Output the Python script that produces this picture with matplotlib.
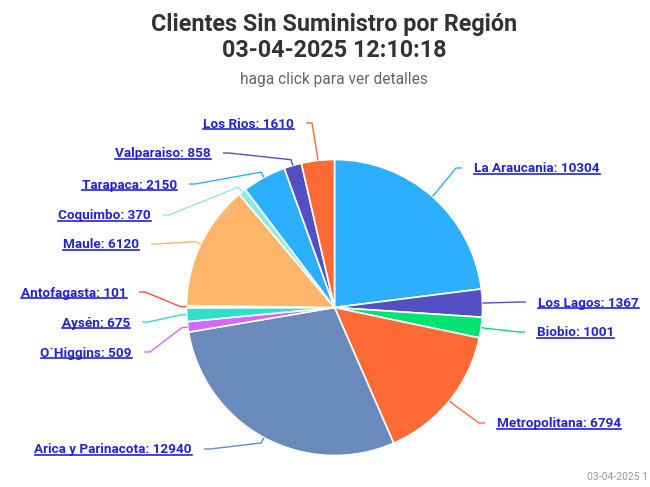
import matplotlib.pyplot as plt
import numpy as np

regiones = ['La Araucania', 'Los Lagos', 'Biobio', 'Metropolitana', 'Arica y Parinacota',
            "O`Higgins", 'Aysén', 'Antofagasta', 'Maule', 'Coquimbo', 'Tarapaca',
            'Valparaiso', 'Los Rios']
clientes = [10304, 1367, 1001, 6794, 12940, 509, 675, 101, 6120, 370, 2150, 858, 1610]
colores = ['#2caffe', '#544fc5', '#00e272', '#fe6a35', '#6b8abc', '#d568fb', '#2ee0ca',
           '#fa4b42', '#feb56a', '#91e8e1', '#2caffe', '#544fc5', '#fe6a35']

titulo = 'Clientes Sin Suministro por Región'
fecha = '03-04-2025 12:10:18'
subtitulo = 'haga click para ver detalles'
credito = '03-04-2025 1'

# where the data labels sit (pixels from top-left of the image)
lab_x = [474, 538, 537, 497, 192, 132, 130, 127, 139, 151, 177, 211, 294]
lab_y = [168, 302, 332, 423, 449, 352, 322, 292, 244, 215, 184, 153, 123]

W, H = 650, 487
cx, cy, R = 334.5, H - 307.5, 148
link = '#2222d8'

plt.rcParams['font.family'] = ['Roboto', 'DejaVu Sans']

fig = plt.figure(figsize=(6.5, 4.87), dpi=100)
ax = fig.add_axes([0, 0, 1, 1])

wedges, _ = ax.pie(clientes, colors=colores, startangle=90, counterclock=False,
                   center=(cx, cy), radius=R,
                   wedgeprops=dict(edgecolor='white', linewidth=1.2))
ax.set_xlim(0, W)
ax.set_ylim(0, H)
ax.set_aspect('equal')
ax.axis('off')

textos = []
for i, w in enumerate(wedges):
    a = np.radians((w.theta1 + w.theta2) / 2)
    ex, ey = cx + R * np.cos(a), cy + R * np.sin(a)
    bx, by = cx + (R + 6) * np.cos(a), cy + (R + 6) * np.sin(a)
    side = 1 if lab_x[i] > cx else -1
    ty = H - lab_y[i]
    x0 = lab_x[i] - 12 * side
    ax.plot([x0, x0 - 6 * side, bx, ex], [ty, ty, by, ey], color=colores[i], lw=1,
            solid_capstyle='butt', zorder=1)
    t = ax.text(lab_x[i], ty - 4.5, f'{regiones[i]}: {clientes[i]}',
                ha='left' if side > 0 else 'right', va='baseline',
                fontsize=9.7, fontweight='bold', color=link)
    textos.append(t)

ax.text(334.5, H - 31, titulo, ha='center', va='baseline', fontsize=16.8,
        fontweight='bold', color='#333333')
ax.text(334.5, H - 57, fecha, ha='center', va='baseline', fontsize=16.8,
        fontweight='bold', color='#333333')
ax.text(334, H - 84, subtitulo, ha='center', va='baseline', fontsize=11.2,
        color='#666666')
ax.text(648, H - 477, credito, ha='right', va='center', fontsize=7.5, color='#999999')

# underline the labels like links
fig.canvas.draw()
rend = fig.canvas.get_renderer()
for t in textos:
    bb = t.get_window_extent(rend)
    yb = t.get_position()[1] - 1.8
    ax.plot([bb.x0, bb.x1], [yb, yb], color=link, lw=1.2)

fig.savefig('out.png', dpi=100)
